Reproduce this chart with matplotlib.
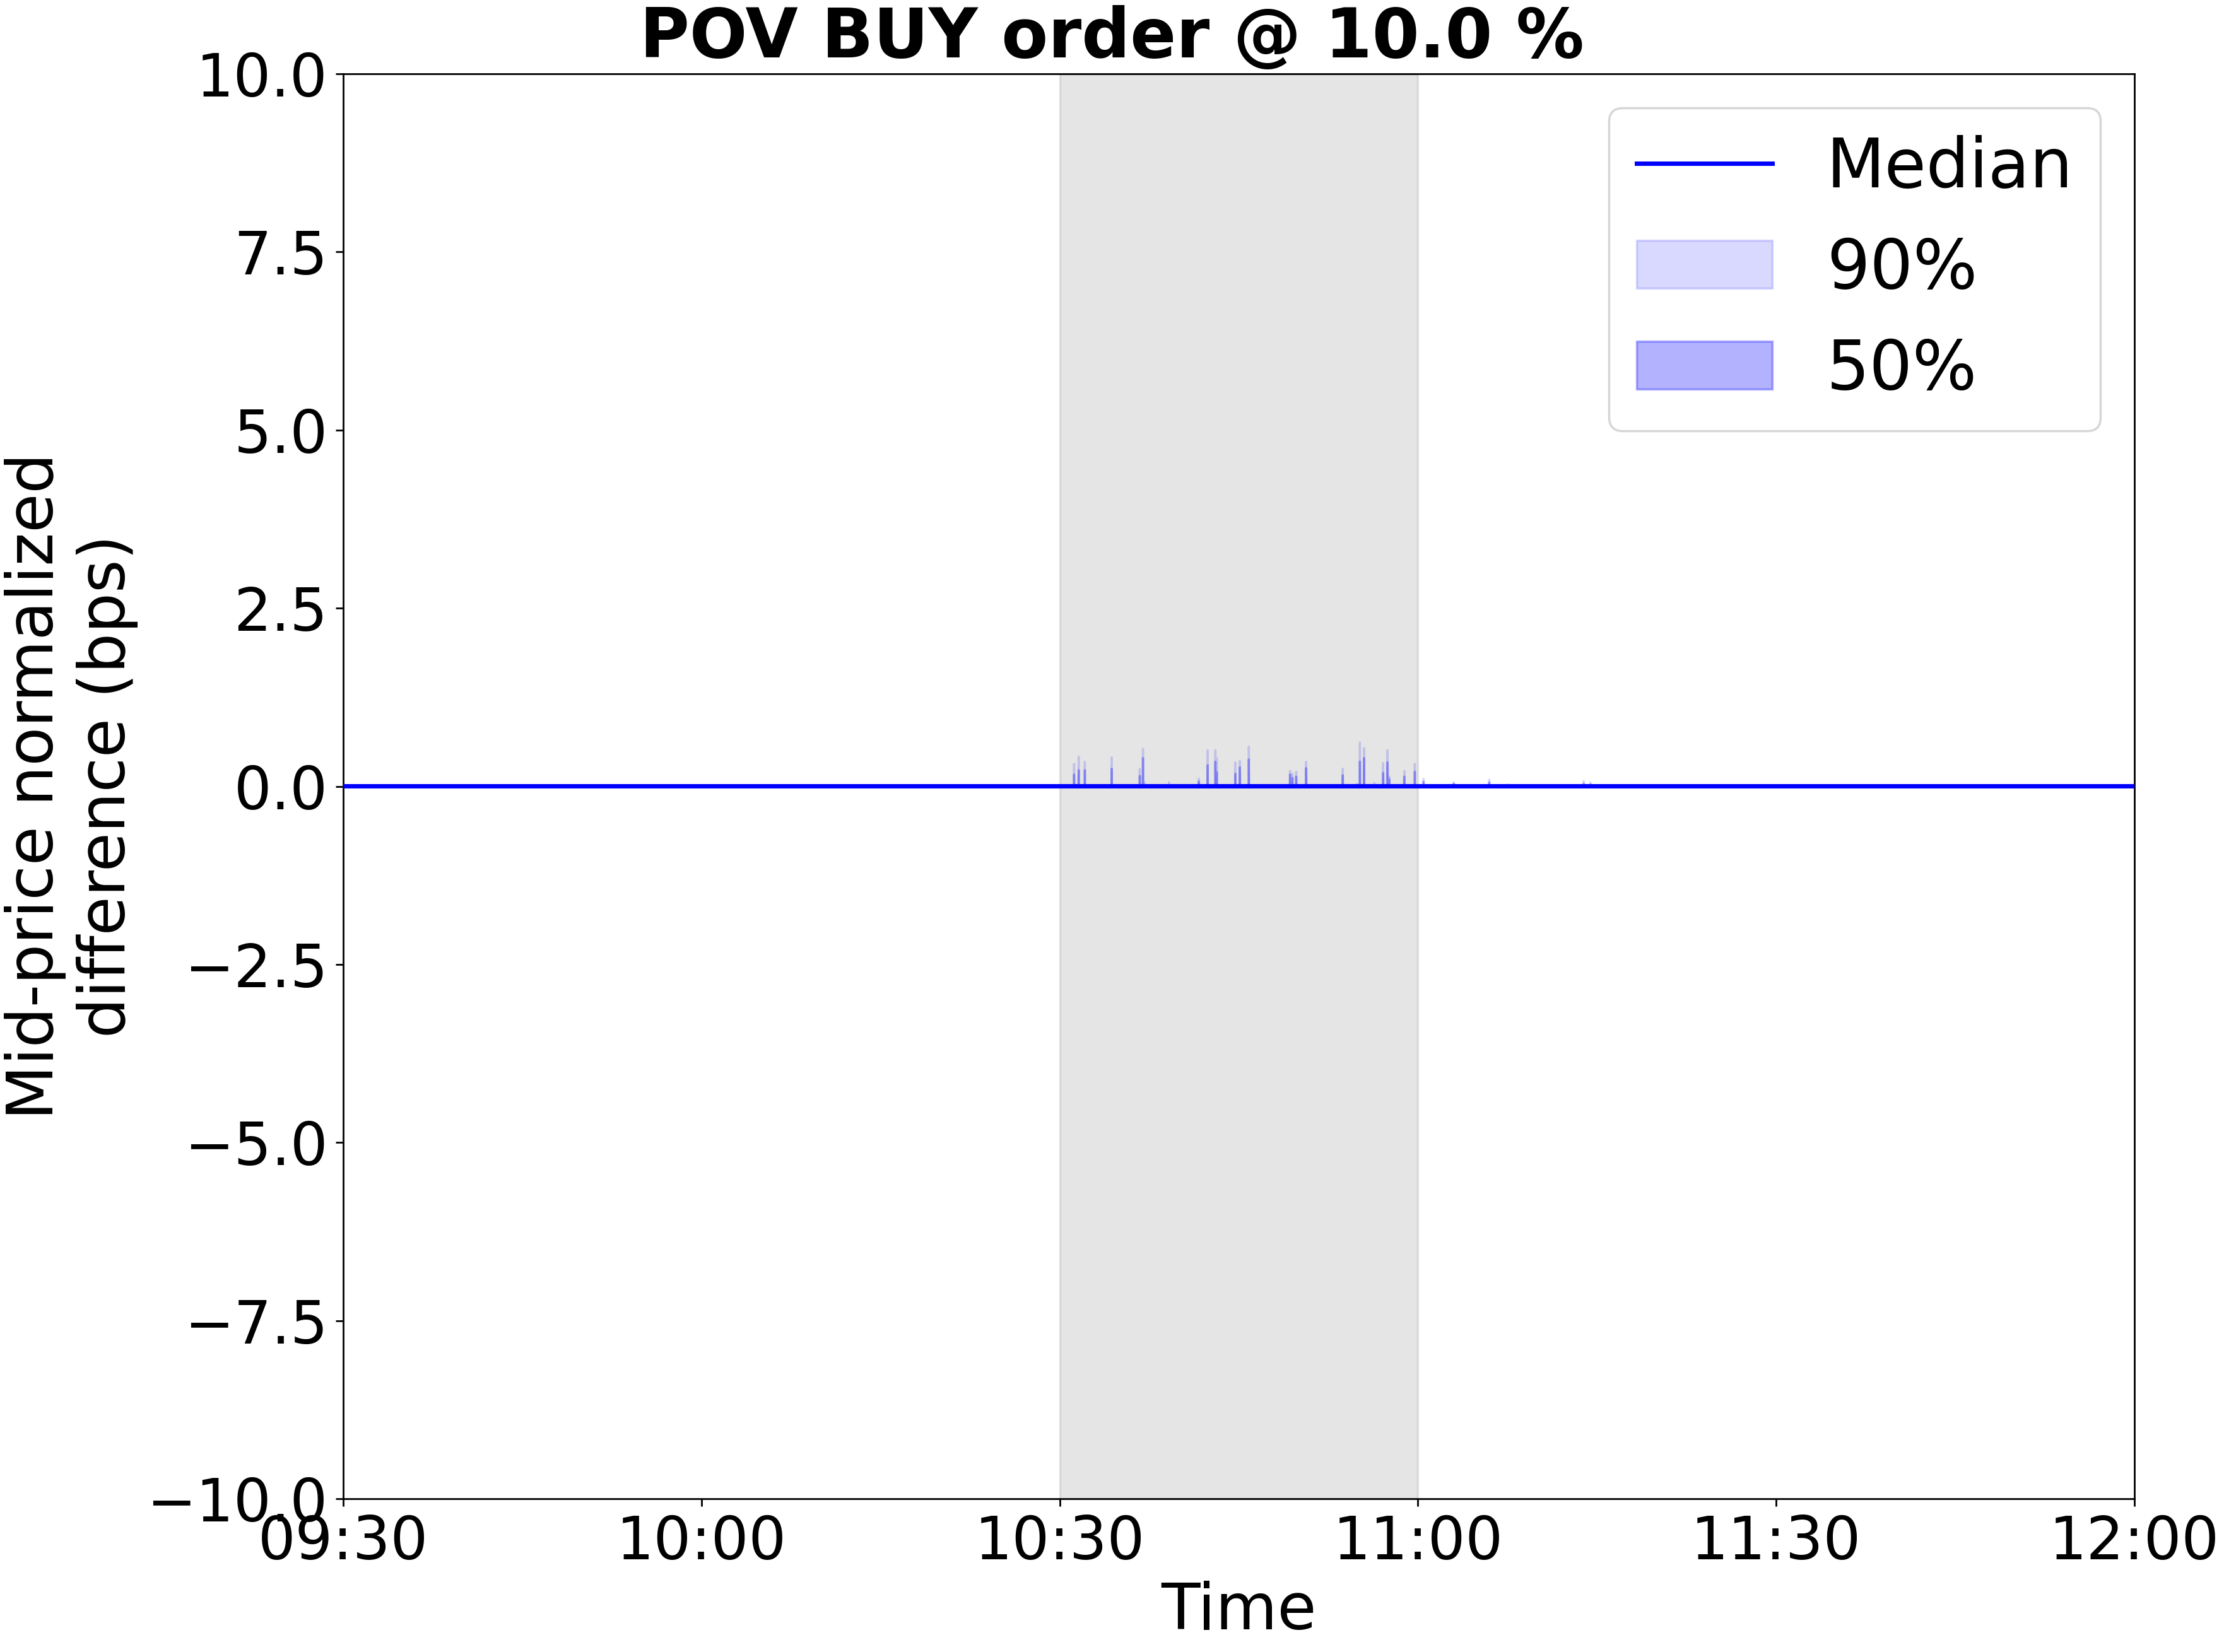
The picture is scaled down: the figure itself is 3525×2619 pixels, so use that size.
import numpy as np
import pandas as pd
import matplotlib
matplotlib.use('Agg')
import matplotlib.pyplot as plt
import matplotlib.dates as mdates

day = '2020-01-02 '

# spikes of the quantile bands (everything else sits on 0)
spike_times = ['10:31:11', '10:31:34', '10:32:05', '10:34:20', '10:36:41', '10:36:57',
               '10:37:03', '10:39:08', '10:41:38', '10:42:22', '10:43:01', '10:43:08',
               '10:44:41', '10:45:04', '10:45:49', '10:49:16', '10:49:28', '10:49:47',
               '10:50:37', '10:53:41', '10:54:52', '10:55:07', '10:55:28', '10:56:20',
               '10:57:04', '10:57:26', '10:57:35', '10:58:50', '10:59:43', '11:00:27',
               '11:02:59', '11:05:24', '11:05:57', '11:07:31', '11:13:52', '11:14:25']
upper_90 = [0.32, 0.42, 0.35, 0.41, 0.25, 0.53,
            0.07, 0.06, 0.11, 0.51, 0.51, 0.40,
            0.34, 0.36, 0.56, 0.22, 0.18, 0.21,
            0.35, 0.25, 0.04, 0.62, 0.54, 0.05,
            0.33, 0.51, 0.14, 0.22, 0.32, 0.11,
            0.06, 0.02, 0.10, 0.03, 0.08, 0.06]
upper_50 = [0.17, 0.23, 0.23, 0.25, 0.15, 0.40,
            0.03, 0.0, 0.07, 0.30, 0.35, 0.20,
            0.18, 0.27, 0.38, 0.17, 0.12, 0.14,
            0.26, 0.16, 0.0, 0.35, 0.40, 0.0,
            0.19, 0.34, 0.10, 0.14, 0.21, 0.07,
            0.04, 0.0, 0.06, 0.0, 0.04, 0.03]

t = pd.date_range(day + '09:30:00', day + '12:00:00', freq='1s')
median = np.zeros(len(t))
q90 = np.zeros(len(t))
q50 = np.zeros(len(t))
idx = t.get_indexer(pd.to_datetime([day + s for s in spike_times]))
q90[idx] = upper_90
q50[idx] = upper_50

fig, ax = plt.subplots(figsize=(14.1, 10.476))
ax.axvspan(pd.Timestamp(day + '10:30'), pd.Timestamp(day + '11:00'), color='gray', alpha=0.2)
ax.plot(t, median, color='blue', lw=2, label='Median', zorder=3)
ax.fill_between(t, median, q90, color='blue', alpha=0.15, label='90%')
ax.fill_between(t, median, q50, color='blue', alpha=0.3, label='50%')

ax.set_xlim(pd.Timestamp(day + '09:30'), pd.Timestamp(day + '12:00'))
ax.set_ylim(-10, 10)
ax.xaxis.set_major_locator(mdates.MinuteLocator(byminute=[0, 30]))
ax.xaxis.set_major_formatter(mdates.DateFormatter('%H:%M'))
ax.tick_params(labelsize=27)
ax.set_xlabel('Time', fontsize=29)
ax.set_ylabel('Mid-price normalized\ndifference (bps)', fontsize=29)
fig.suptitle('POV BUY order @ 10.0 %', fontsize=31, fontweight='bold', y=0.997)
ax.legend(fontsize=31, loc='upper right')

plt.subplots_adjust(left=0.1543, right=0.9597, top=0.9553, bottom=0.0928)
plt.savefig('out.png', dpi=250)
